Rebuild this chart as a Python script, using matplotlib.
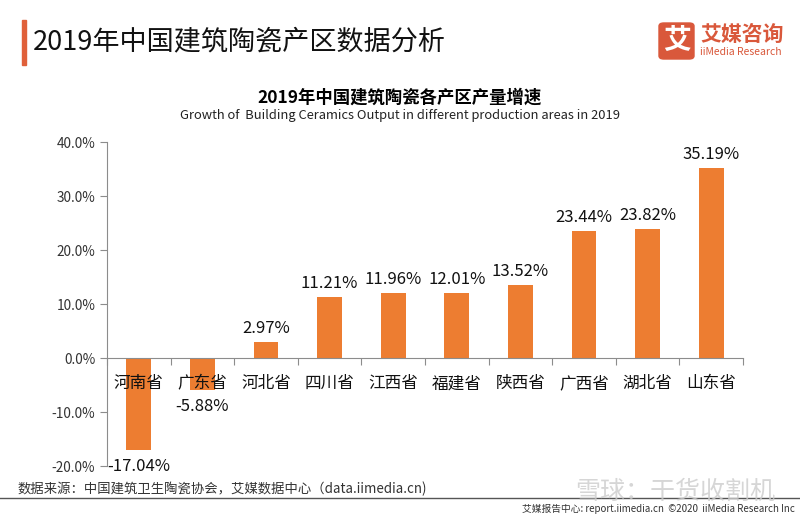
import matplotlib
matplotlib.use('Agg')
import matplotlib.pyplot as plt
from matplotlib.patches import FancyBboxPatch, Rectangle
from matplotlib.lines import Line2D

plt.rcParams['font.family'] = ['Noto Sans CJK SC', 'DejaVu Sans']

# data
provinces = ['河南省', '广东省', '河北省', '四川省', '江西省',
             '福建省', '陕西省', '广西省', '湖北省', '山东省']
growth = [-17.04, -5.88, 2.97, 11.21, 11.96, 12.01, 13.52, 23.44, 23.82, 35.19]
yticks = [-20, -10, 0, 10, 20, 30, 40]

bar_color = '#ED7D31'
accent = '#E0603A'
gray = '#8C8C8C'

fig = plt.figure(figsize=(8, 5.2), dpi=100)

# header
fig.patches.append(Rectangle((22 / 800, 1 - 65 / 520), 4 / 800, 45 / 520,
                             transform=fig.transFigure, color=accent))
fig.text(33 / 800, 1 - 42 / 520, '2019年中国建筑陶瓷产区数据分析',
         fontsize=19.5, fontweight='medium', va='center', color='#111111')

# logo
fig.patches.append(FancyBboxPatch((659 / 800, 1 - 59 / 520), 35 / 800, 36 / 520,
                                  boxstyle='round,pad=0,rounding_size=0.006',
                                  transform=fig.transFigure, color='#D9583B'))
fig.text(676.5 / 800, 1 - 41 / 520, '艾', fontsize=20, fontweight='bold',
         color='white', ha='center', va='center')
fig.text(700 / 800, 1 - 34 / 520, '艾媒咨询', fontsize=15, fontweight='bold',
         color='#D9583B', va='center')
fig.text(700 / 800, 1 - 52 / 520, 'iiMedia Research', fontsize=7.5,
         color='#D9583B', va='center')

# chart titles
fig.text(0.5, 1 - 98 / 520, '2019年中国建筑陶瓷各产区产量增速',
         fontsize=12.5, fontweight='bold', ha='center', va='center')
fig.text(0.5, 1 - 116 / 520,
         'Growth of  Building Ceramics Output in different production areas in 2019',
         fontsize=9.3, ha='center', va='center', color='#222222')

ax = fig.add_axes([107 / 800, 1 - 466 / 520, (743 - 107) / 800, (466 - 142) / 520])
x = list(range(len(provinces)))
bars = ax.bar(x, growth, width=0.39, color=bar_color)

ax.set_xlim(-0.5, len(provinces) - 0.5)
ax.set_ylim(-20, 40)
ax.set_yticks(yticks)
ax.set_yticklabels([f'{v:.1f}%' for v in yticks], fontsize=9.8, color='#333333')

ax.spines['top'].set_visible(False)
ax.spines['right'].set_visible(False)
ax.spines['bottom'].set_position(('data', 0))
ax.spines['left'].set_color(gray)
ax.spines['bottom'].set_color(gray)
ax.tick_params(axis='y', length=5, color=gray)

# category boundary ticks, labels as text below zero line
ax.set_xticks([i - 0.5 for i in range(len(provinces) + 1)])
ax.set_xticklabels([])
ax.tick_params(axis='x', length=5, color=gray, direction='out')
for i, name in enumerate(provinces):
    ax.text(i, -3.2, name, ha='center', va='top', fontsize=12, color='#111111')

for i, v in enumerate(growth):
    if v >= 0:
        ax.text(i, v + 1.0, f'{v:.2f}%', ha='center', va='bottom', fontsize=12,
                color='#111111')
    else:
        ax.text(i, v - 1.5, f'{v:.2f}%', ha='center', va='top', fontsize=12,
                color='#111111')

# footer
fig.text(18 / 800, 1 - 489 / 520, '数据来源：中国建筑卫生陶瓷协会，艾媒数据中心（data.iimedia.cn)',
         fontsize=9.6, va='center', color='#333333')
fig.lines.append(Line2D([0, 1], [1 - 498 / 520, 1 - 498 / 520],
                        transform=fig.transFigure, color='#555555', lw=1))
fig.text(795 / 800, 1 - 509 / 520,
         '艾媒报告中心: report.iimedia.cn  ©2020  iiMedia Research Inc',
         fontsize=7, ha='right', va='center', color='#333333')
fig.text(675 / 800, 1 - 492 / 520, '雪球：干货收割机', fontsize=18,
         ha='center', va='center', color='#cccccc', alpha=0.8)

fig.savefig('out.png', dpi=100)
